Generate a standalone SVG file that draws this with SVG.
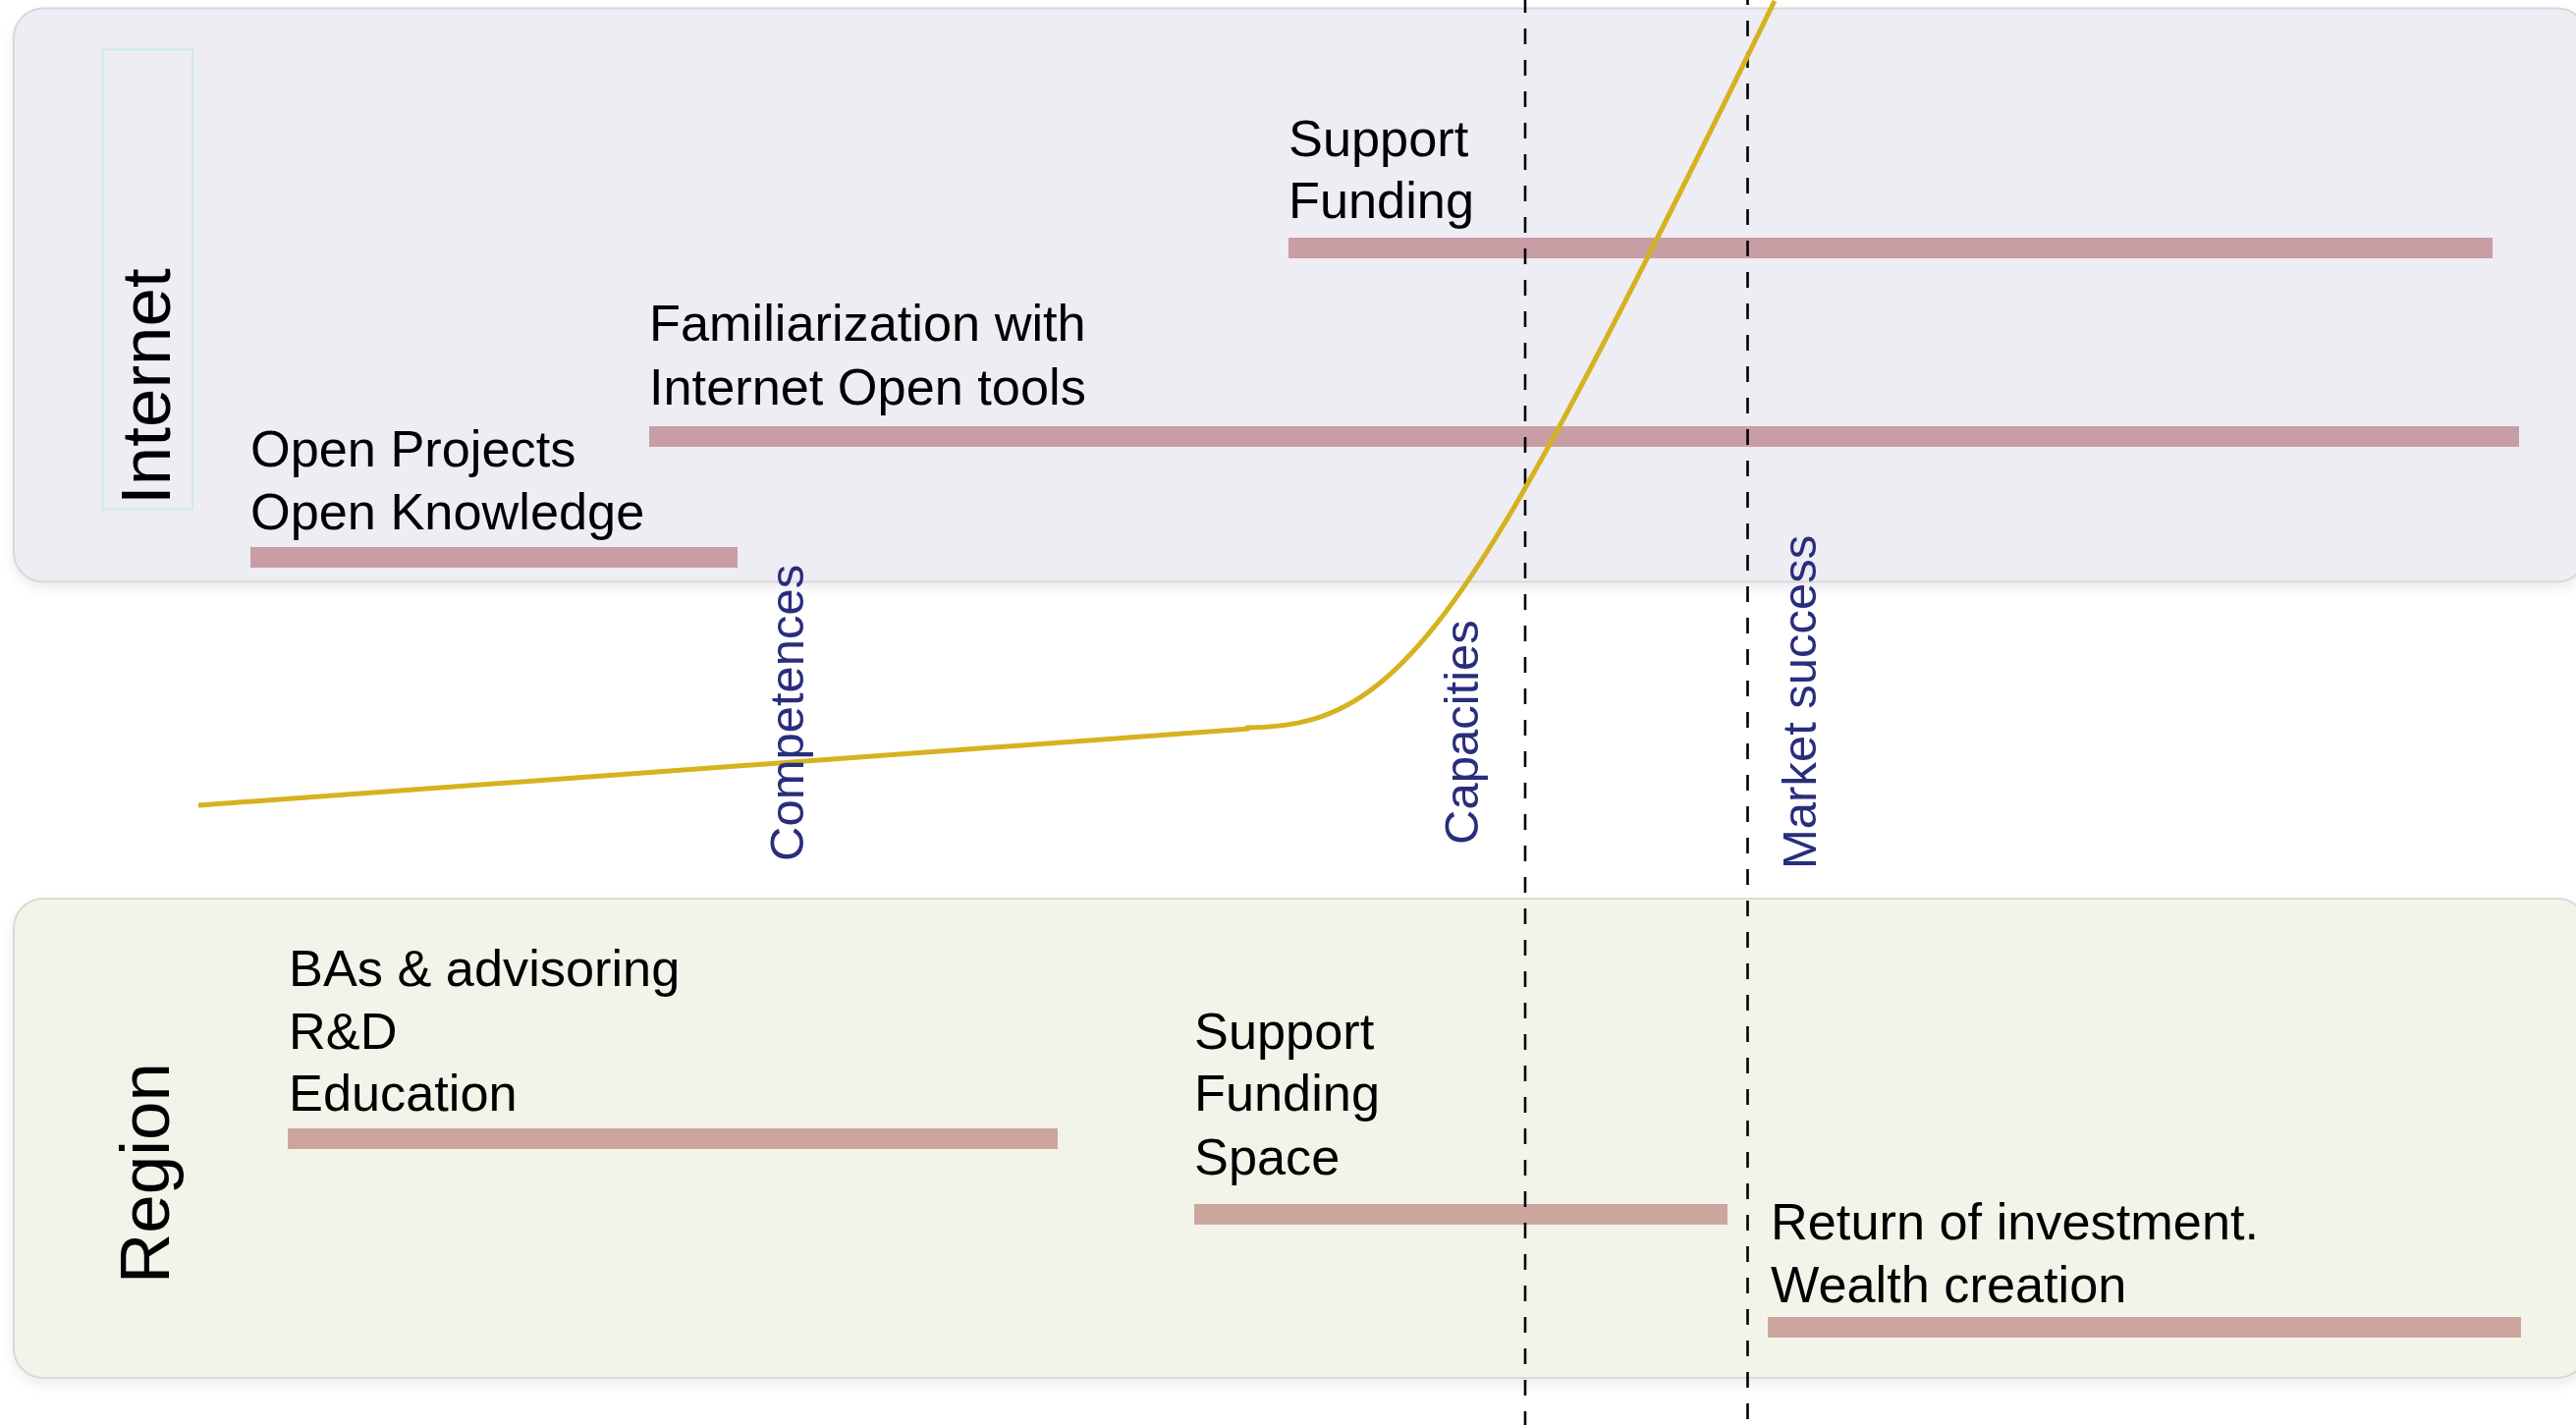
<svg xmlns="http://www.w3.org/2000/svg" width="2623" height="1451" viewBox="0 0 2623 1451">
<defs>
<filter id="sh" x="-5%" y="-10%" width="110%" height="125%">
<feDropShadow dx="0" dy="6" stdDeviation="6" flood-color="#000" flood-opacity="0.07"/>
</filter>
<style>
.t{font-family:"Liberation Sans",Arial,Helvetica,sans-serif;font-size:52.3px;fill:#000}
.big{font-family:"Liberation Sans",Arial,Helvetica,sans-serif;font-size:71px;fill:#000}
.lab{font-family:"Liberation Sans",Arial,Helvetica,sans-serif;font-size:49px;fill:#282D7C}
.bi{fill:#C89EA4}
.br{fill:#CCA69E}
.dash{stroke:#000;stroke-width:2.6;stroke-dasharray:16 16;fill:none}
.curve{stroke:#D5B21F;stroke-width:5;fill:none;stroke-linejoin:round}
</style>
</defs>
<rect width="2623" height="1451" fill="#FFFFFF"/>
<g id="internet-panel">
<rect x="14" y="8.5" width="2620" height="584" rx="30" ry="30" fill="#EDEDF3" stroke="#D7D7DC" stroke-width="2" filter="url(#sh)"/>
<rect x="104.5" y="50.5" width="91.5" height="468" fill="none" stroke="#CFE9EC" stroke-width="2"/>
<text class="big" transform="translate(173,514) rotate(-90)">Internet</text>
</g>
<g id="region-panel">
<rect x="14" y="915" width="2620" height="488" rx="30" ry="30" fill="#F2F4E9" stroke="#DADAD2" stroke-width="2" filter="url(#sh)"/>
<text class="big" transform="translate(172,1307) rotate(-90)">Region</text>
</g>
<g id="node-support-funding-internet">
<text class="t" x="1312" y="159">Support</text>
<text class="t" x="1312" y="222">Funding</text>
<rect class="bi" x="1312" y="242" width="1226" height="21"/>
</g>
<g id="node-familiarization">
<text class="t" x="661" y="347">Familiarization with</text>
<text class="t" x="661" y="412">Internet Open tools</text>
<rect class="bi" x="661" y="434" width="1904" height="21"/>
</g>
<g id="node-open-projects">
<text class="t" x="255" y="475">Open Projects</text>
<text class="t" x="255" y="539">Open Knowledge</text>
<rect class="bi" x="255" y="557" width="496" height="21"/>
</g>
<g id="node-bas">
<text class="t" x="294" y="1004">BAs &amp; advisoring</text>
<text class="t" x="294" y="1068">R&amp;D</text>
<text class="t" x="294" y="1131">Education</text>
<rect class="br" x="293" y="1149" width="784" height="21"/>
</g>
<g id="node-support-funding-space">
<text class="t" x="1216" y="1068">Support</text>
<text class="t" x="1216" y="1131">Funding</text>
<text class="t" x="1216" y="1196">Space</text>
<rect class="br" x="1216" y="1226" width="543" height="21"/>
</g>
<g id="node-return">
<text class="t" x="1803" y="1262">Return of investment.</text>
<text class="t" x="1803" y="1326">Wealth creation</text>
<rect class="br" x="1800" y="1341" width="767" height="21"/>
</g>
<g id="connectors">
<line class="dash" x1="1553" y1="0" x2="1553" y2="1451" stroke-dashoffset="3"/>
<line class="dash" x1="1779.5" y1="0" x2="1779.5" y2="1451" stroke-dashoffset="11"/>
<path class="curve" d="M202,820 L1272,742"/>
<path class="curve" d="M1268,741 C1366,741 1433,707 1553,497 C1623,374.5 1707,205 1807,1"/>
</g>
<g id="labels">
<text class="lab" transform="translate(818,877) rotate(-90)">Competences</text>
<text class="lab" transform="translate(1505,860) rotate(-90)">Capacities</text>
<text class="lab" transform="translate(1849,885) rotate(-90)">Market success</text>
</g>
</svg>
